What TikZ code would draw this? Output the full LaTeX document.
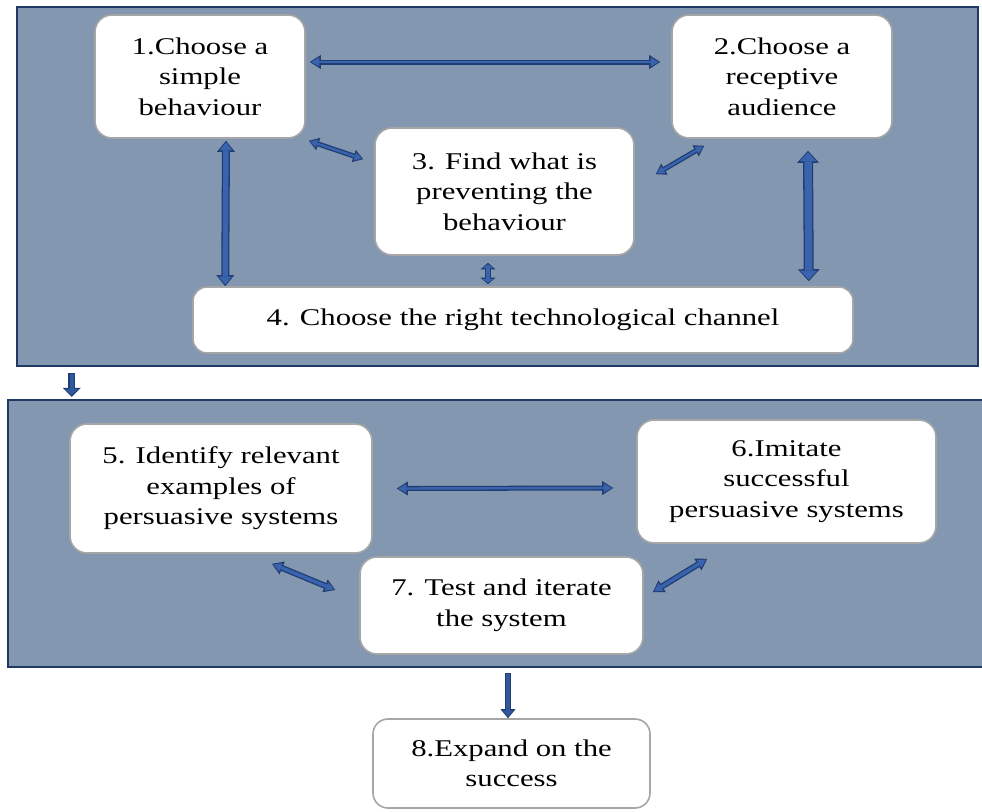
\documentclass[tikz,border=0pt]{standalone}
\usepackage{fontspec}
\setmainfont{Liberation Serif}[FakeStretch=1.28]
\usetikzlibrary{calc,arrows.meta}

\definecolor{panelfill}{HTML}{8497B0}
\definecolor{panelline}{HTML}{203864}
\definecolor{boxline}{HTML}{A6A6A6}
\definecolor{arrowline}{HTML}{1F3D73}
\definecolor{arrowfill}{HTML}{3A63AE}

\tikzset{
  panel/.style={draw=panelline, line width=2.5pt, fill=panelfill, inner sep=0pt},
  stepbox/.style={draw=boxline, line width=1.6pt, fill=white, rounded corners=17pt,
    align=center, inner sep=0pt, font=\fontsize{24}{30.5}\selectfont},
}

% double-headed block arrow: #1 shaft width, #2 head width, #3 head length, #4 start, #5 end
\newcommand{\linkboth}[5]{%
  \draw[arrowline, line width=#1pt, line join=miter,
        {Triangle[width=#2pt,length=#3pt,line width=0pt]}-{Triangle[width=#2pt,length=#3pt,line width=0pt]}]
        #4 -- #5;
  \draw[arrowfill, line width=#1pt-2.6pt, shorten >=1.6pt, shorten <=1.6pt,
        {Triangle[width=#2pt-4.8pt,length=#3pt-3pt,line width=0pt]}-{Triangle[width=#2pt-4.8pt,length=#3pt-3pt,line width=0pt]}]
        #4 -- #5;
}
% single-headed block arrow with the same parameters
\newcommand{\linkone}[5]{%
  \draw[arrowline, line width=#1pt,
        -{Triangle[width=#2pt,length=#3pt,line width=0pt]}]
        #4 -- #5;
  \draw[arrowfill!70!arrowline, line width=#1pt-2.6pt, shorten >=1.6pt, shorten <=1.2pt,
        -{Triangle[width=#2pt-4.8pt,length=#3pt-3pt,line width=0pt]}]
        #4 -- #5;
}

\begin{document}
\begin{tikzpicture}[x=1pt, y=-1pt]
\useasboundingbox (0,0) rectangle (982,811);

% panels
\node[panel, minimum width=961pt, minimum height=359pt] (p1) at (497.5,186.5) {};
\node[panel, minimum width=978pt, minimum height=267pt] (p2) at (497,533.5) {};

% steps of the upper panel
\node[stepbox, minimum width=210pt, minimum height=123pt] (b1) at (200,76.5)
  {1.Choose a\\simple\\behaviour};
\node[stepbox, minimum width=220pt, minimum height=123pt] (b2) at (782,76.5)
  {2.Choose a\\receptive\\audience};
\node[stepbox, minimum width=259pt, minimum height=127pt] (b3) at (504.5,191.5)
  {3. Find what is\\preventing the\\behaviour};
\node[stepbox, minimum width=660pt, minimum height=66pt, rounded corners=14pt] (b4) at (523,320)
  {4. Choose the right technological channel};

% steps of the lower panel
\node[stepbox, minimum width=302pt, minimum height=129pt] (b5) at (221,488.5)
  {5. Identify relevant\\examples of\\persuasive systems};
\node[stepbox, minimum width=299pt, minimum height=123pt] (b6) at (786.5,481.5)
  {6.Imitate\\successful\\persuasive systems};
\node[stepbox, minimum width=283pt, minimum height=97pt] (b7) at (501.5,605.5)
  {7. Test and iterate\\the system};

% final step
\node[stepbox, minimum width=277pt, minimum height=89pt, rounded corners=15pt] (b8) at (511.5,763.5)
  {8.Expand on the\\success};

% links inside the upper panel
\linkboth{5}{14}{11}{($(b1.east)+(4,-14.5)$)}{($(b2.west)+(-11,-14.5)$)}
\linkboth{5}{13}{10}{($(b1.south east)+(3,2)$)}{($(b3.north west)+(-11,32)$)}
\linkboth{5}{13}{10}{($(b2.south west)+(33,7)$)}{($(b3.north east)+(21,47)$)}
\linkboth{8}{18}{11}{($(b1.south)+(26,2)$)}{($(b4.north west)+(33,0)$)}
\linkboth{10}{22}{12}{($(b2.south)+(26,12)$)}{($(b4.north east)+(-45,-5)$)}
\linkboth{6.5}{15}{6.5}{($(b3.south)+(-16.5,7)$)}{($(b4.north)+(-35,-2)$)}

% links inside the lower panel
\linkboth{5}{14}{11}{($(b5.east)+(24,0)$)}{($(b6.west)+(-23,6.5)$)}
\linkboth{6}{14}{11}{($(b5.south)+(51,10)$)}{($(b7.west)+(-24,-15.5)$)}
\linkboth{6}{14}{11}{($(b6.south west)+(71,15)$)}{($(b7.east)+(9,-13.5)$)}

% flow between panels and to the final step
\linkone{7}{18}{9}{($(p1.south west)+(56,6)$)}{($(p2.north west)+(65,-2)$)}
\linkone{6.5}{15}{9}{($(b7.south)+(6.5,18)$)}{($(b8.north)+(-3.5,0)$)}
\end{tikzpicture}
\end{document}
